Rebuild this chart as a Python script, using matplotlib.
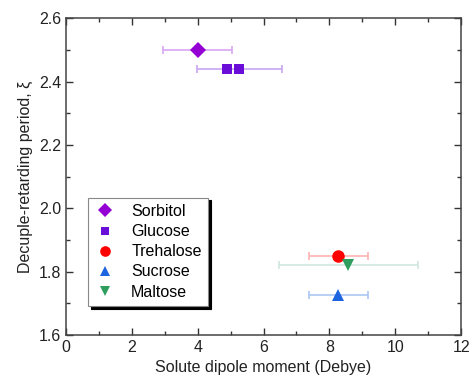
import matplotlib
matplotlib.use("Agg")
import matplotlib.pyplot as plt
from matplotlib.ticker import MultipleLocator

plt.rcParams["font.family"] = ["Liberation Sans", "DejaVu Sans"]

# ---------------------------------------------------------------------------
# Data
# ---------------------------------------------------------------------------
labels  = ["Sorbitol", "Glucose", "Trehalose", "Sucrose", "Maltose"]
markers = ["D", "s", "o", "^", "v"]
colours = ["#9400D3", "#6A0DD8", "#FF0000", "#1C64E0", "#2E9E5E"]
err_colours = ["#D9A6F2", "#C9A6F2", "#FFB3B3", "#A9C7F2", "#CFE6E0"]
msizes  = [8, 7, 9, 9, 9]

# one list of points per solute: x, y, x-error
sorbitol_x,  sorbitol_y,  sorbitol_err  = [4.0], [2.50], [1.05]
glucose_x,   glucose_y,   glucose_err   = [4.88, 5.27], [2.44, 2.44], [0.0, 1.3]
trehalose_x, trehalose_y, trehalose_err = [8.27], [1.85], [0.9]
sucrose_x,   sucrose_y,   sucrose_err   = [8.27], [1.725], [0.9]
maltose_x,   maltose_y,   maltose_err   = [8.58], [1.82], [2.1]

series_x   = [sorbitol_x, glucose_x, trehalose_x, sucrose_x, maltose_x]
series_y   = [sorbitol_y, glucose_y, trehalose_y, sucrose_y, maltose_y]
series_err = [sorbitol_err, glucose_err, trehalose_err, sucrose_err, maltose_err]

# ---------------------------------------------------------------------------
# Plot
# ---------------------------------------------------------------------------
fig = plt.figure(figsize=(4.71, 3.86), dpi=100)
ax = fig.add_axes([0.140, 0.132, 0.839, 0.821])

for lab, m, c, ec, ms, xs, ys, es in zip(labels, markers, colours, err_colours,
                                         msizes, series_x, series_y, series_err):
    for x, y, e in zip(xs, ys, es):
        if e > 0:
            ax.errorbar(x, y, xerr=e, fmt="none", ecolor=ec,
                        elinewidth=1.2, capsize=3, capthick=1.2, zorder=2)
    ax.plot(xs, ys, linestyle="none", marker=m, color=c, markersize=ms,
            markeredgewidth=0, label=lab, zorder=3)

ax.set_xlim(0, 12)
ax.set_ylim(1.6, 2.6)
ax.xaxis.set_major_locator(MultipleLocator(2))
ax.xaxis.set_minor_locator(MultipleLocator(1))
ax.yaxis.set_major_locator(MultipleLocator(0.2))
ax.yaxis.set_minor_locator(MultipleLocator(0.1))
ax.yaxis.set_major_formatter(matplotlib.ticker.FormatStrFormatter("%.1f"))

ax.tick_params(which="both", direction="in", top=True, right=True,
               colors="#333333", labelcolor="#222222", labelsize=11.5)
ax.tick_params(which="major", length=5, width=1)
ax.tick_params(which="minor", length=3, width=1)
for spine in ax.spines.values():
    spine.set_edgecolor("#444444")
    spine.set_linewidth(1.1)

ax.set_xlabel("Solute dipole moment (Debye)", fontsize=11.5, color="#222222")
ax.set_ylabel("Decuple-retarding period, ξ", fontsize=11.5, color="#222222")

leg = ax.legend(loc="lower left", bbox_to_anchor=(0.056, 0.092),
                borderaxespad=0, fontsize=11.5, frameon=True, fancybox=False,
                shadow={"color": "black", "alpha": 1.0},
                edgecolor="#888888", labelspacing=0.32, markerscale=0.85,
                handletextpad=1.0, borderpad=0.4, handlelength=1.3)
leg.get_frame().set_linewidth(0.8)

fig.savefig("out.png", dpi=100)
